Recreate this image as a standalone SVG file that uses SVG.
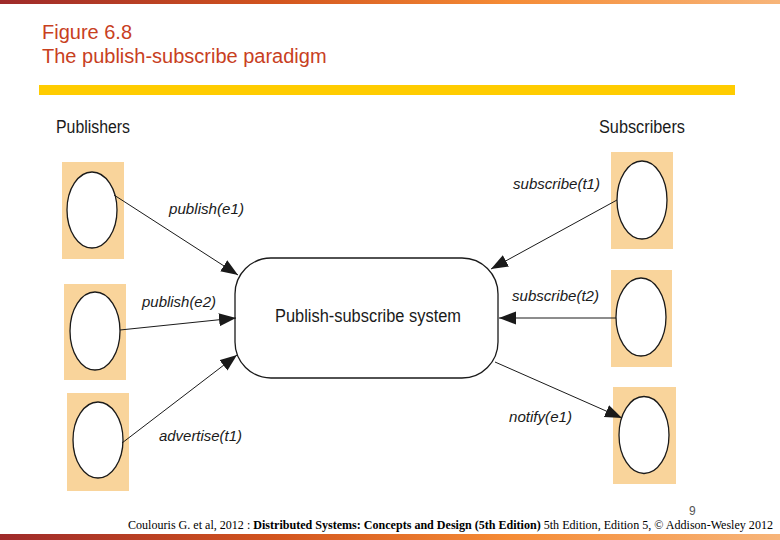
<svg xmlns="http://www.w3.org/2000/svg" width="780" height="540" viewBox="0 0 780 540">
<style>
.title{font-family:"Liberation Sans",Arial,sans-serif;font-size:20px;fill:#c8401e}
.head{font-family:"Liberation Sans",Arial,sans-serif;font-size:18px;fill:#1a1a1a}
.lbl{font-family:"Liberation Sans",Arial,sans-serif;font-size:15px;font-style:italic;fill:#1a1a1a}
.bg{fill:#f9d49b}
.ell{fill:#ffffff;stroke:#1a1a1a;stroke-width:1.3}
.conn{stroke:#1a1a1a;stroke-width:1;fill:none;marker-end:url(#ah)}
.foot{font-family:"Liberation Serif","Times New Roman",serif;font-size:12.5px;fill:#000}
</style>
<defs>
<linearGradient id="bar" x1="0" y1="0" x2="1" y2="0">
<stop offset="0" stop-color="#9e2a2a"/>
<stop offset="0.35" stop-color="#d2541e"/>
<stop offset="0.65" stop-color="#f58b35"/>
<stop offset="1" stop-color="#f7b57a"/>
</linearGradient>
<marker id="ah" markerUnits="userSpaceOnUse" markerWidth="18" markerHeight="14" refX="17" refY="6.5" orient="auto">
<path d="M0,0 L17,6.5 L0,13 Z" fill="#1a1a1a"/>
</marker>
</defs>
<rect width="780" height="540" fill="#ffffff"/>
<rect x="0" y="0" width="780" height="4" fill="url(#bar)"/>
<rect x="0" y="534" width="780" height="6" fill="url(#bar)"/>
<text class="title" x="42" y="39">Figure 6.8</text>
<text class="title" x="42" y="63">The publish-subscribe paradigm</text>
<rect x="39" y="85" width="696" height="10" fill="#ffcc00"/>
<text class="head" x="56" y="133" textLength="74" lengthAdjust="spacingAndGlyphs">Publishers</text>
<text class="head" x="599" y="133" textLength="86" lengthAdjust="spacingAndGlyphs">Subscribers</text>
<g id="pub1"><rect class="bg" x="62" y="162" width="62" height="97"/><ellipse class="ell" cx="92" cy="210" rx="25" ry="38"/></g>
<g id="pub2"><rect class="bg" x="64" y="284" width="62" height="96"/><ellipse class="ell" cx="95" cy="331" rx="25" ry="39"/></g>
<g id="pub3"><rect class="bg" x="67" y="393" width="62" height="98"/><ellipse class="ell" cx="98" cy="440" rx="25" ry="38"/></g>
<g id="sub1"><rect class="bg" x="611" y="152" width="62" height="97"/><ellipse class="ell" cx="642" cy="200" rx="25" ry="39"/></g>
<g id="sub2"><rect class="bg" x="611" y="270" width="61" height="97"/><ellipse class="ell" cx="641" cy="317" rx="25" ry="39"/></g>
<g id="sub3"><rect class="bg" x="613" y="387" width="63" height="97"/><ellipse class="ell" cx="644" cy="435" rx="25" ry="38.5"/></g>
<g id="system">
<rect x="235" y="258" width="263" height="120" rx="36" ry="36" fill="#ffffff" stroke="#1a1a1a" stroke-width="1.3"/>
<text class="head" x="275" y="322" textLength="186" lengthAdjust="spacingAndGlyphs">Publish-subscribe system</text>
</g>
<g id="connectors">
<line class="conn" x1="114" y1="195" x2="238" y2="275"/>
<line class="conn" x1="120" y1="330" x2="236" y2="318"/>
<line class="conn" x1="122" y1="443" x2="237" y2="355"/>
<line class="conn" x1="617" y1="200" x2="491" y2="269"/>
<line class="conn" x1="616" y1="318" x2="499" y2="318"/>
<line class="conn" x1="495" y1="362" x2="622" y2="418"/>
</g>
<g id="labels">
<text class="lbl" x="169" y="214" textLength="75" lengthAdjust="spacingAndGlyphs">publish(e1)</text>
<text class="lbl" x="142" y="307" textLength="74" lengthAdjust="spacingAndGlyphs">publish(e2)</text>
<text class="lbl" x="159" y="441" textLength="83" lengthAdjust="spacingAndGlyphs">advertise(t1)</text>
<text class="lbl" x="513" y="189" textLength="87" lengthAdjust="spacingAndGlyphs">subscribe(t1)</text>
<text class="lbl" x="512" y="301" textLength="87" lengthAdjust="spacingAndGlyphs">subscribe(t2)</text>
<text class="lbl" x="509" y="422" textLength="63" lengthAdjust="spacingAndGlyphs">notify(e1)</text>
</g>
<text x="689" y="515" font-family="'Liberation Sans',Arial,sans-serif" font-size="12" fill="#555">9</text>
<text class="foot" x="128" y="529" textLength="645" lengthAdjust="spacingAndGlyphs">Coulouris G. et al, 2012 : <tspan font-weight="bold">Distributed Systems: Concepts and Design (5th Edition)</tspan> 5th Edition, Edition 5, © Addison-Wesley 2012</text>
</svg>
